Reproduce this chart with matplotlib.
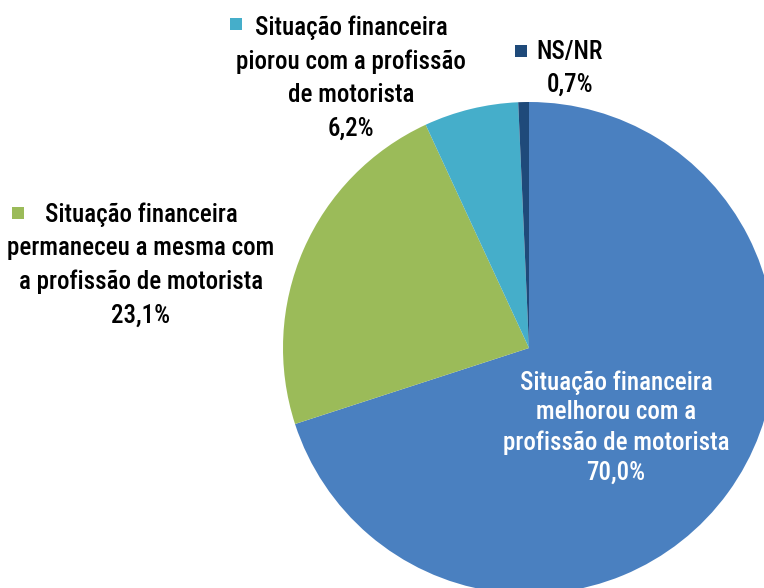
import matplotlib.pyplot as plt
from matplotlib.patches import Rectangle

# dados
categorias = ['Situação financeira\nmelhorou com a\nprofissão de motorista',
              'Situação financeira\npermaneceu a mesma com\na profissão de motorista',
              'Situação financeira\npiorou com a profissão\nde motorista',
              'NS/NR']
valores = [70.0, 23.1, 6.2, 0.7]
rotulos_pct = ['70,0%', '23,1%', '6,2%', '0,7%']
cores = ['#4A80C0', '#9BBB59', '#45AECA', '#1F4A7A']

plt.rcParams['font.family'] = ['Roboto Condensed', 'DejaVu Sans']
plt.rcParams['font.stretch'] = 'condensed'

W, H = 764, 588
fig = plt.figure(figsize=(W / 100, H / 100), dpi=100)
ax = fig.add_axes([0, 0, 1, 1])

cx, cy, r = 529, H - 348, 246
ax.pie(valores, colors=cores, startangle=90, counterclock=False,
       center=(cx, cy), radius=r, frame=True,
       wedgeprops=dict(linewidth=0))
ax.set_xlim(0, W)
ax.set_ylim(0, H)
ax.set_aspect('equal')
ax.axis('off')

fs = 18
# posições dos rótulos (x centro, y topo em pixels, quadrado, cor do texto, espaçamento)
pos = [(616, 370, None, 'white', 1.31),
       (141, 202, (12, 207), 'black', 1.5),
       (351, 15, (230, 18), 'black', 1.5),
       (570, 40, (515, 45), 'black', 1.45)]

for cat, pct, cor, (x, ytop, sq, tc, ls) in zip(categorias, rotulos_pct, cores, pos):
    txt = cat + '\n' + pct
    ax.text(x, H - ytop, txt, ha='center', va='top', fontsize=fs,
            color=tc, linespacing=ls, multialignment='center',
            fontweight='medium')
    if sq is not None:
        ax.add_patch(Rectangle((sq[0], H - sq[1] - 12), 12, 12, color=cor,
                               linewidth=0))

fig.savefig('out.png', dpi=100)
